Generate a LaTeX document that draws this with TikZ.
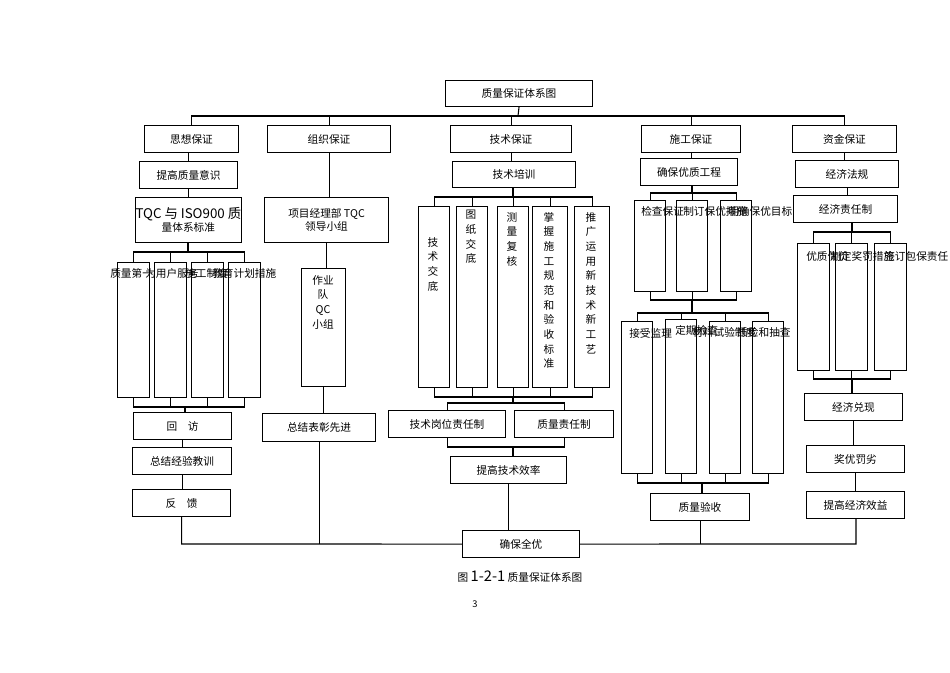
\documentclass[tikz,border=0pt]{standalone}
\usepackage{fontspec}
\newfontfamily\cjk{Noto Sans CJK SC}
\begin{document}
\begin{tikzpicture}[x=0.75pt,y=-0.75pt,
 bx/.style={draw,line width=0.8pt,font=\cjk\fontsize{8}{10}\selectfont},
 ln/.style={line width=0.8pt},
 lbl/.style={font=\cjk\fontsize{8}{10}\selectfont,inner sep=0pt},
 vt/.style={font=\cjk\fontsize{8}{11}\selectfont,align=center,inner sep=0pt,anchor=north}]
\useasboundingbox (0,0) rectangle (950,672);
\newcommand\B[6]{\node[bx,minimum width=#4*0.75pt-#2*0.75pt,minimum height=#5*0.75pt-#3*0.75pt,anchor=north west,inner sep=0pt] (#1) at (#2,#3) {#6};}
\B{top}{445}{80}{592}{106}{质量保证体系图}
\B{a}{144}{125}{238}{152}{思想保证}
\B{b}{267}{125}{390}{152}{组织保证}
\B{c}{450}{125}{571}{152}{技术保证}
\B{d}{641}{125}{740}{152}{施工保证}
\B{e}{792}{125}{896}{152}{资金保证}
\coordinate (t1) at (518,116);
\draw[ln] (top.south) -- (t1);
\draw[ln] (a.north) |- (t1) -| (e.north);
\draw[ln] (b.north) -- (b.north|-t1);
\draw[ln] (c.north) -- (c.north|-t1);
\draw[ln] (d.north) -- (d.north|-t1);
% column 1
\B{a1}{139}{161}{237}{188}{提高质量意识}
\node[bx,minimum width=78.75pt,minimum height=33.75pt,anchor=north west,inner sep=0pt,align=center] (a2) at (135,197) {\fontsize{10}{12}\selectfont TQC 与 ISO900 质\\量体系标准};
\B{a31}{117}{262}{149}{397}{}
\B{a32}{154}{262}{186}{397}{}
\B{a33}{191}{262}{223}{397}{}
\B{a34}{228}{262}{260}{397}{}
\node[lbl,anchor=west] at (110,273) {质量第一};
\node[lbl,anchor=west] at (145,273) {为用户服务};
\node[lbl,anchor=west] at (185,273) {施工制度};
\node[lbl,anchor=west] at (212,273) {教育计划措施};
\B{a4}{133}{412}{231}{439}{回\quad 访}
\B{a5}{132}{447}{231}{474}{总结经验教训}
\B{a6}{132}{489}{230}{516}{反\quad 馈}
\draw[ln] (a1.north)--(a1.north|-a.south) (a1.south)--(a1.south|-a2.north);
\coordinate (a2b) at (188,252);
\draw[ln] (a2b|-a2.south)--(a2b);
\draw[ln] (a31.north) |- (a2b) -| (a34.north);
\draw[ln] (a32.north)--(a32.north|-a2b) (a33.north)--(a33.north|-a2b);
\coordinate (a3b) at (185,407);
\draw[ln] (a31.south) |- (a3b) -| (a34.south);
\draw[ln] (a32.south)--(a32.south|-a3b) (a33.south)--(a33.south|-a3b);
\draw[ln] (a3b)--(a3b|-a4.north);
\draw[ln] (a4.south)--(a4.south|-a5.north) (a5.south)--(a5.south|-a6.north);
% column 2
\node[bx,minimum width=93pt,minimum height=33.75pt,anchor=north west,inner sep=0pt,align=center] (b1) at (264,197) {项目经理部 TQC\\领导小组};
\node[bx,minimum width=33pt,minimum height=88.5pt,anchor=north west,inner sep=0pt] (b2) at (301,268) {};
\node[vt] at (323,275) {作业\\队\\QC\\小组};
\B{b3}{262}{413}{375}{441}{总结表彰先进}
\draw[ln] (b.south)--(b.south|-b1.north) (b1.south)--(b1.south|-b2.north) (b2.south)--(b2.south|-b3.north);
% column 3
\B{c1}{452}{161}{575}{187}{技术培训}
\B{c21}{418}{206}{449}{387}{}
\B{c22}{456}{206}{487}{387}{}
\B{c23}{497}{206}{528}{387}{}
\B{c24}{532}{206}{567}{387}{}
\B{c25}{574}{206}{609}{387}{}
\node[vt] at (433,237) {技\\术\\交\\底};
\node[vt] at (471,210) {图\\纸\\交\\底};
\node[vt] at (512,212) {测\\量\\复\\核};
\node[vt] at (549,212) {掌\\握\\施\\工\\规\\范\\和\\验\\收\\标\\准};
\node[vt] at (591,212) {推\\广\\运\\用\\新\\技\\术\\新\\工\\艺};
\draw[ln] (c.south)--(c.south|-c1.north);
\coordinate (c1b) at (513,197);
\draw[ln] (c1b) -- (c1b|-c1.south);
\draw[ln] (c21.north) |- (c1b) -| (c25.north);
\draw[ln] (c22.north)--(c22.north|-c1b) (c23.north)--(c23.north|-c1b) (c24.north)--(c24.north|-c1b);
\coordinate (c2b) at (513,397);
\draw[ln] (c21.south) |- (c2b) -| (c25.south);
\draw[ln] (c22.south)--(c22.south|-c2b) (c23.south)--(c23.south|-c2b) (c24.south)--(c24.south|-c2b);
\B{c3}{388}{410}{505}{437}{技术岗位责任制}
\B{c4}{514}{410}{613}{437}{质量责任制}
\B{c5}{450}{456}{566}{483}{提高技术效率}
\coordinate (c3t) at (513,403);
\draw[ln] (c3.north) |- (c3t) -| (c4.north);
\draw[ln] (c2b)--(c3t);
\coordinate (c5t) at (513,447);
\draw[ln] (c3.south) |- (c5t) -| (c4.south);
\draw[ln] (c5t)--(c5t|-c5.north);
% column 4
\B{d1}{640}{158}{737}{185}{确保优质工程}
\B{d21}{634}{200}{665}{291}{}
\B{d22}{676}{200}{707}{291}{}
\B{d23}{720}{200}{751}{291}{}
\node[lbl,anchor=west] at (641,211) {检查保证};
\node[lbl,anchor=west] at (683,211) {制订保优措施};
\node[lbl,anchor=west] at (728,211) {明确保优目标};
\draw[ln] (d.south)--(d.south|-d1.north);
\coordinate (d1b) at (692,193);
\draw[ln] (d1b)--(d1b|-d1.south);
\draw[ln] (d21.north) |- (d1b) -| (d23.north);
\draw[ln] (d22.north)--(d22.north|-d1b);
\coordinate (d2b) at (692,300);
\draw[ln] (d21.south) |- (d2b) -| (d23.south);
\draw[ln] (d22.south)--(d22.south|-d2b);
\B{d31}{621}{321}{652}{473}{}
\B{d32}{665}{319}{696}{473}{}
\B{d33}{709}{321}{740}{473}{}
\B{d34}{752}{321}{783}{473}{}
\node[lbl,anchor=west] at (629,333) {接受监理};
\node[lbl,anchor=west] at (675,330) {定期检查};
\node[lbl,anchor=west] at (692,332) {材料试验制度};
\node[lbl,anchor=west] at (737,332) {质检和抽查};
\coordinate (d3t) at (692,313);
\draw[ln] (d2b)--(d3t);
\draw[ln] (d31.north) |- (d3t) -| (d34.north);
\draw[ln] (d32.north)--(d32.north|-d3t) (d33.north)--(d33.north|-d3t);
\coordinate (d3b) at (702,483);
\draw[ln] (d31.south) |- (d3b) -| (d34.south);
\draw[ln] (d32.south)--(d32.south|-d3b) (d33.south)--(d33.south|-d3b);
\B{d4}{650}{493}{749}{520}{质量验收}
\draw[ln] (d3b)--(d3b|-d4.north);
% column 5
\B{e1}{795}{160}{898}{187}{经济法规}
\B{e2}{793}{195}{897}{222}{经济责任制}
\B{e31}{797}{243}{829}{370}{}
\B{e32}{835}{243}{867}{370}{}
\B{e33}{874}{243}{906}{370}{}
\node[lbl,anchor=west] at (806,256) {优质优价};
\node[lbl,anchor=west] at (830,256) {制定奖罚措施};
\node[lbl,anchor=west] at (884,256) {签订包保责任};
\draw[ln] (e.south)--(e.south|-e1.north) (e1.south)--(e1.south|-e2.north);
\coordinate (e2b) at (852,232);
\draw[ln] (e2b)--(e2b|-e2.south);
\draw[ln] (e31.north) |- (e2b) -| (e33.north);
\draw[ln] (e32.north)--(e32.north|-e2b);
\coordinate (e3b) at (852,379);
\draw[ln] (e31.south) |- (e3b) -| (e33.south);
\draw[ln] (e32.south)--(e32.south|-e3b);
\B{e4}{804}{393}{902}{420}{经济兑现}
\B{e5}{806}{445}{904}{472}{奖优罚劣}
\B{e6}{806}{491}{904}{518}{提高经济效益}
\draw[ln] (e3b)--(e3b|-e4.north) (e4.south)--(e4.south|-e5.north) (e5.south)--(e5.south|-e6.north);
% bottom
\B{f}{462}{530}{579}{557}{确保全优}
\coordinate (fl) at (185,544);
\coordinate (fr) at (856,544);
\draw[ln] (a6.south) -- (a6.south|-fl) -- (f.west);
\draw[ln] (f.east) -- (fr) -- (fr|-e6.south);
\draw[ln] (b3.south)--(b3.south|-fl);
\draw[ln] (c5.south)--(c5.south|-f.north);
\draw[ln] (d4.south)--(d4.south|-fl);
\node[lbl] (cap) at (520,577) {图 {\fontsize{11}{12}\selectfont 1-2-1} 质量保证体系图};
\node[lbl] (pg) at (475,604) {\fontsize{7}{8}\selectfont 3};
\end{tikzpicture}
\end{document}
